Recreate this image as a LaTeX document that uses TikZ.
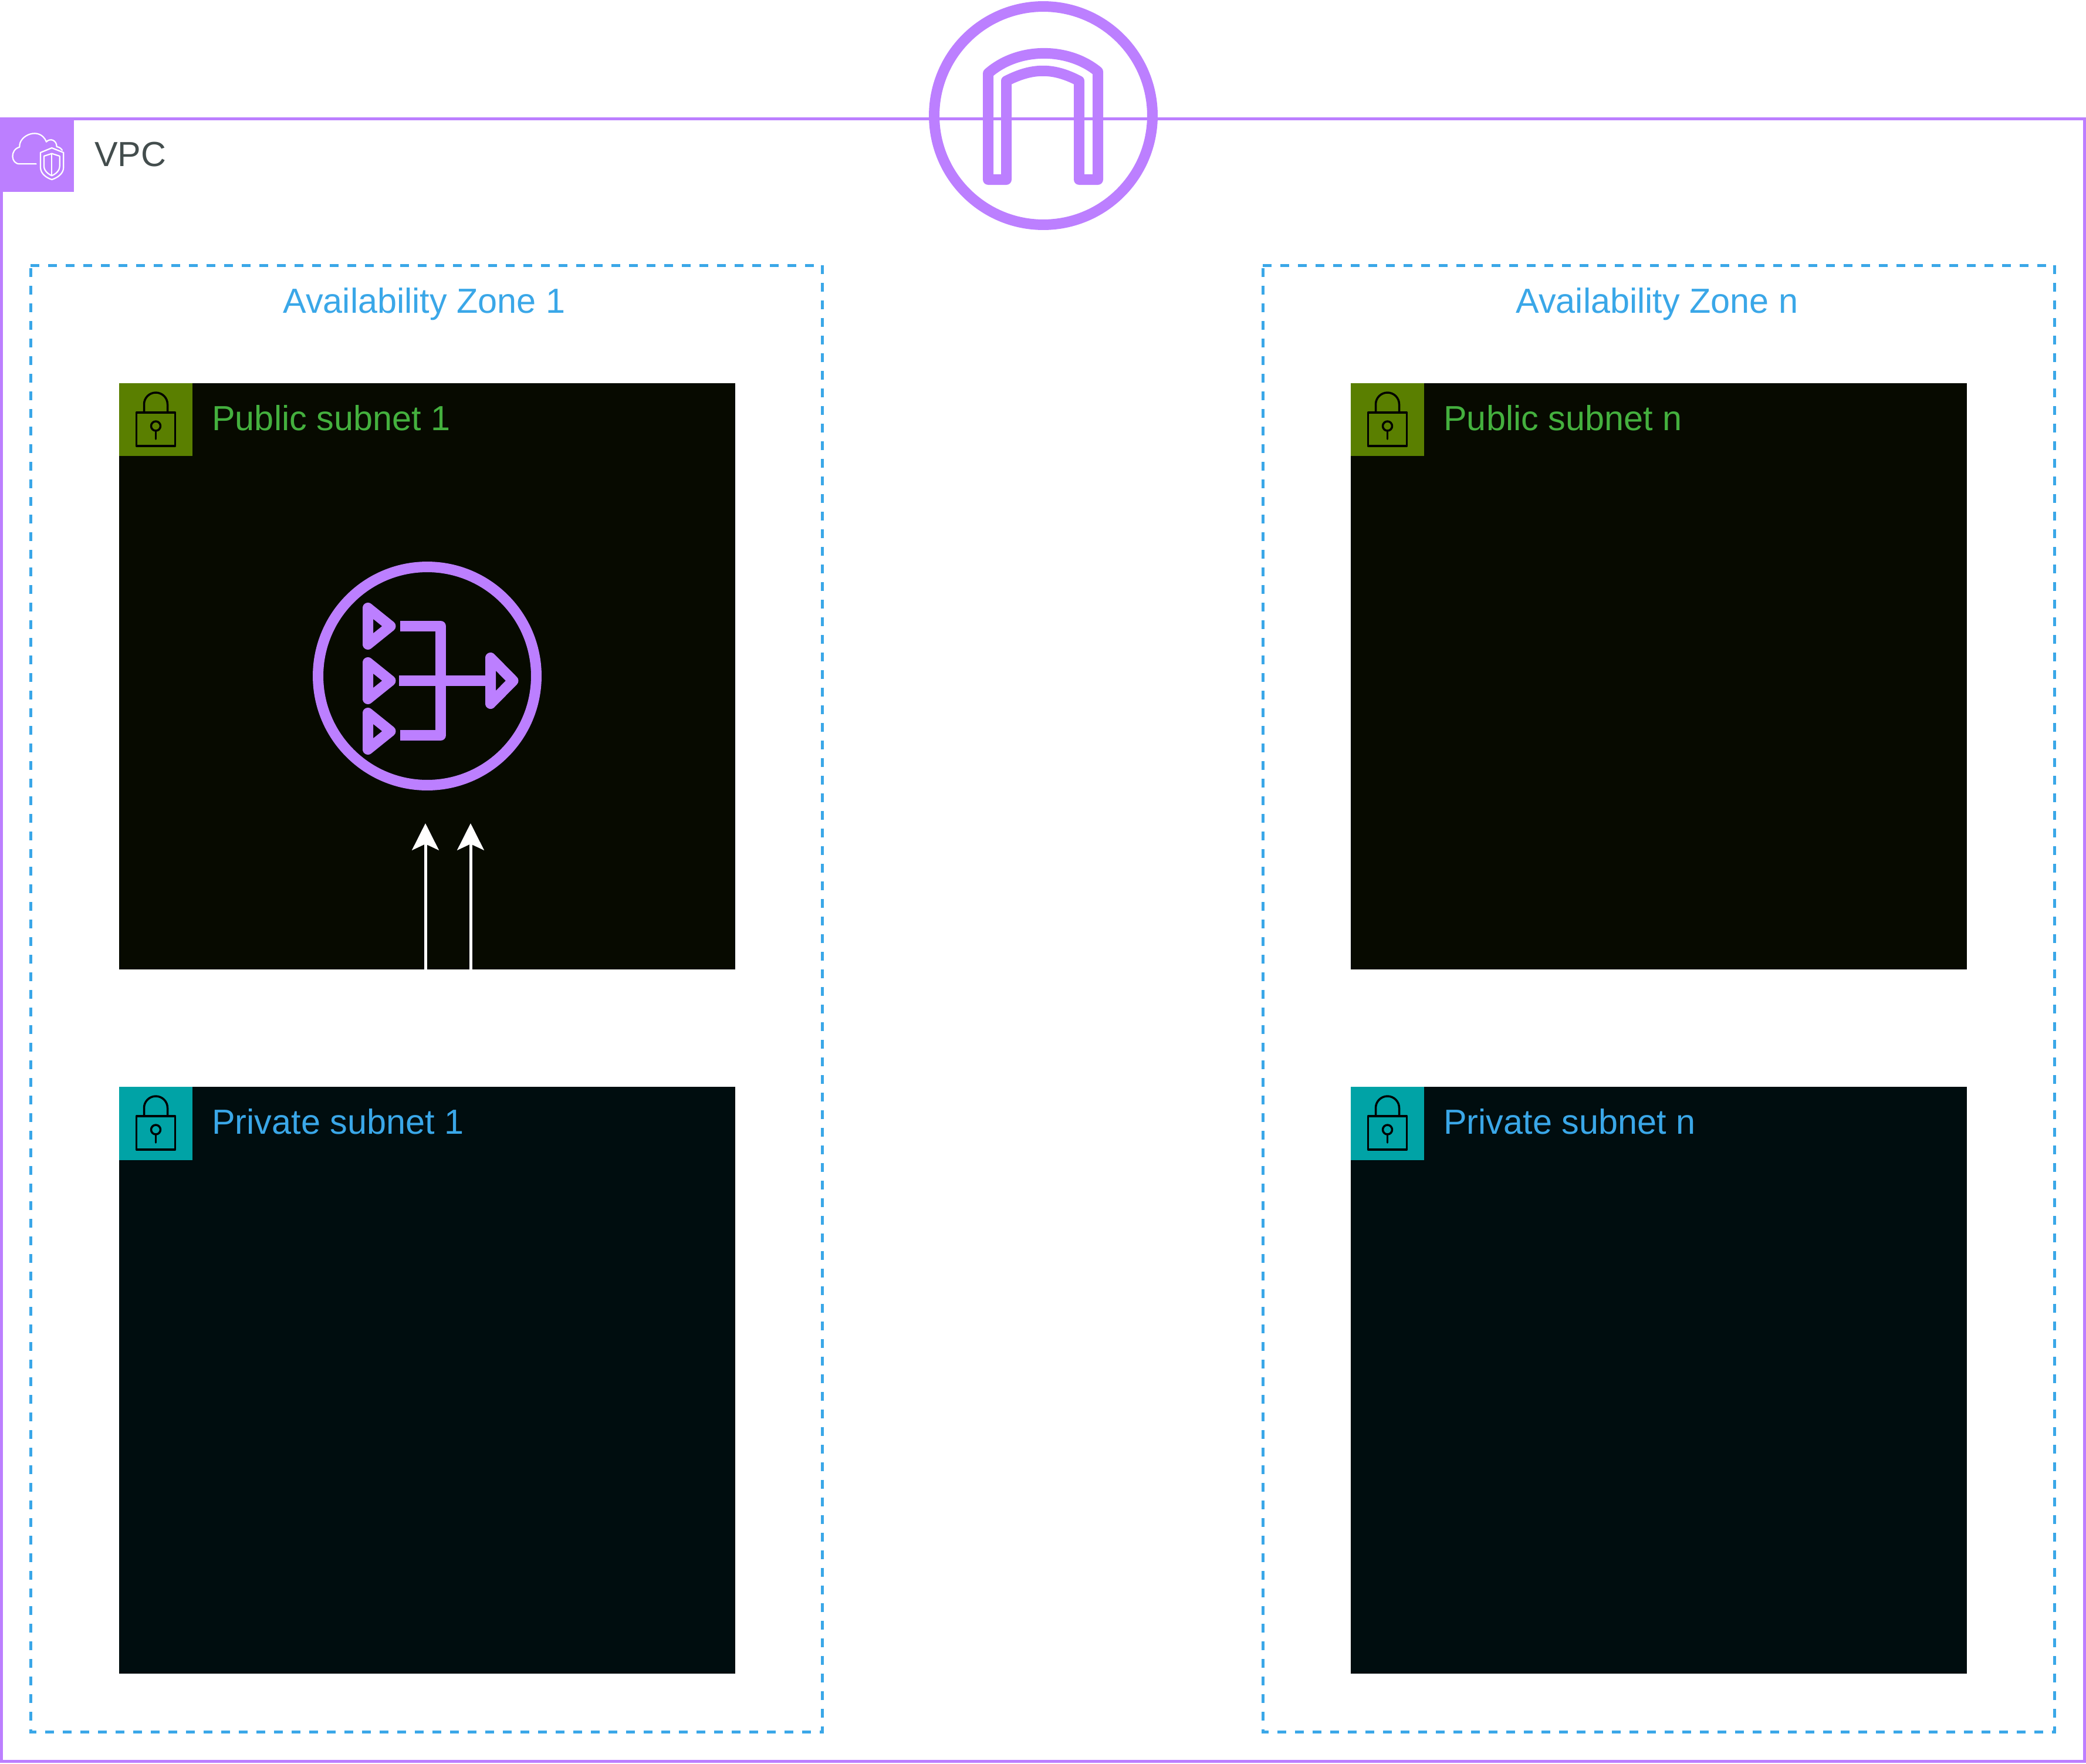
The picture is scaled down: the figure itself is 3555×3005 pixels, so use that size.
\documentclass[tikz,border=0pt]{standalone}
\usepackage{fontspec}
\setmainfont{Liberation Sans}
\usetikzlibrary{arrows.meta}
\definecolor{vpcpurple}{HTML}{BC7FFF}
\definecolor{vpctext}{HTML}{434D4D}
\definecolor{zoneblue}{HTML}{3AA7E8}
\definecolor{pubfill}{HTML}{070A00}
\definecolor{pubtab}{HTML}{5A7F00}
\definecolor{pubtext}{HTML}{44B03E}
\definecolor{privfill}{HTML}{000D0F}
\definecolor{privtab}{HTML}{00A3A6}
\tikzset{
  vpcbox/.style={draw=vpcpurple, line width=0.1cm, inner sep=0pt, outer sep=0pt, minimum width=71cm, minimum height=56cm},
  zonebox/.style={inner sep=0pt, outer sep=0pt, minimum width=27cm, minimum height=50cm},
  zoneline/.style={draw=zoneblue, line width=0.1cm, dash pattern=on 0.3cm off 0.3cm},
  subnetbox/.style={inner sep=0pt, outer sep=0pt, minimum width=21cm, minimum height=20cm},
  tabbox/.style={inner sep=0pt, outer sep=0pt, minimum size=2.5cm},
  badge/.style={draw=vpcpurple, line width=0.36cm, circle, inner sep=0pt, outer sep=0pt, minimum size=7.44cm},
  glyph/.style={draw=vpcpurple, line width=0.36cm, line join=round},
  lockline/.style={draw=black, line width=0.07cm, line cap=round, line join=round},
  iconline/.style={draw=white, line width=0.045cm, line cap=round, line join=round},
  label/.style={inner sep=0pt, font=\fontsize{33.8}{40}\selectfont},
  flow/.style={draw=white, line width=0.1cm, -{Stealth[length=26pt, width=26pt, inset=6pt]}}
}
% padlock of a subnet tab, (#1) is the centre of the tab
\newcommand{\lockicon}[1]{
\draw[lockline] ([shift={(-33,-12)}]#1.center) rectangle ([shift={(33,45)}]#1.center);
\draw[lockline] ([shift={(-20,-12)}]#1.center) -- ([shift={(-20,-26)}]#1.center) arc (180:360:20) -- ([shift={(20,-12)}]#1.center);
\draw[lockline] ([shift={(0,11)}]#1.center) circle (8);
\draw[lockline] ([shift={(0,19)}]#1.center) -- ([shift={(0,33)}]#1.center);
}
% one triangle of the gateway icon, (#1) is the middle of its back
\newcommand{\natarrow}[2]{
\draw[glyph] ([shift={(0,-#2)}]#1) -- ([shift={(38.5,0)}]#1) -- ([shift={(0,#2)}]#1) -- cycle;
}
\begin{document}
\begin{tikzpicture}[x=0.02cm, y=-0.02cm]
\useasboundingbox (0,0) rectangle (3555,3005);
\node[vpcbox] (vpc) at (1777.5,1602) {};
\node[fill=vpcpurple, inner sep=0pt, outer sep=0pt, minimum size=2.5cm] (vpctab) at (64,264.5) {};
\node[label, anchor=base west, text=vpctext] (vpclabel) at (161,283) {VPC};
% vpc icon
\begin{scope}[shift={(0,180)}, x=0.02cm/3, y=-0.02cm/3]
\draw[iconline] (185,298) -- (100,298) .. controls (55,298) and (50,225) .. (100,212) .. controls (95,150) and (205,105) .. (237,185) .. controls (255,165) and (290,175) .. (290,210) .. controls (302,212) and (312,218) .. (318,228);
\draw[iconline] (265,216) -- (207,240) -- (207,315) .. controls (207,350) and (240,370) .. (265,378) .. controls (290,370) and (325,350) .. (325,315) -- (325,240) -- cycle;
\draw[iconline] (265,245) -- (225,258) -- (225,310) .. controls (225,335) and (250,352) .. (265,358) .. controls (280,352) and (305,335) .. (305,310) -- (305,258) -- cycle;
\draw[iconline] (265,245) -- (265,358);
\end{scope}
% internet gateway
\node[badge] (igw) at (1778,197) {};
\draw[glyph] (1684,306) -- (1684,125) .. controls (1735,80) and (1820,80) .. (1871,122) -- (1871,306) -- (1839,306) -- (1839,138) .. controls (1795,115) and (1760,115) .. (1715,138) -- (1715,306) -- cycle;
% zones
\node[zonebox] (zone1) at (727,1702) {};
\node[zonebox] (zonen) at (2827,1702) {};
\draw[zoneline] (zone1.north west) -- (zone1.north east) -- (zone1.south east) -- (zone1.south west) -- cycle;
\draw[zoneline] (zonen.north west) -- (zonen.north east) -- (zonen.south east) -- (zonen.south west) -- cycle;
\node[label, anchor=base, text=zoneblue] (zone1label) at (723,533) {Availability Zone 1};
\node[label, anchor=base, text=zoneblue] (zonenlabel) at (2824,533) {Availability Zone n};
% subnets
\node[subnetbox, fill=pubfill] (pub1) at (728,1152.5) {};
\node[subnetbox, fill=pubfill] (pubn) at (2827,1152.5) {};
\node[subnetbox, fill=privfill] (priv1) at (728,2352) {};
\node[subnetbox, fill=privfill] (privn) at (2827,2352) {};
\node[tabbox, fill=pubtab] (pub1tab) at (265.5,715) {};
\node[tabbox, fill=pubtab] (pubntab) at (2364.5,715) {};
\node[tabbox, fill=privtab] (priv1tab) at (265.5,1914) {};
\node[tabbox, fill=privtab] (privntab) at (2364.5,1914) {};
\lockicon{pub1tab}
\lockicon{pubntab}
\lockicon{priv1tab}
\lockicon{privntab}
\node[label, anchor=base west, text=pubtext] (pub1label) at (361,733) {Public subnet 1};
\node[label, anchor=base west, text=pubtext] (pubnlabel) at (2460,733) {Public subnet n};
\node[label, anchor=base west, text=zoneblue] (priv1label) at (361,1932) {Private subnet 1};
\node[label, anchor=base west, text=zoneblue] (privnlabel) at (2460,1932) {Private subnet n};
% nat gateway
\node[badge] (nat1) at (728,1152) {};
\coordinate (nattop) at (627,1067);
\coordinate (natmid) at (627,1160);
\coordinate (natbot) at (627,1246);
\coordinate (natout) at (836,1160);
\natarrow{nattop}{31}
\natarrow{natmid}{31}
\natarrow{natbot}{31}
\natarrow{natout}{39}
\draw[glyph] (682,1067) -- (751,1067) -- (751,1253) -- (682,1253);
\draw[glyph] (680,1160) -- (836,1160);
% arrows into the nat gateway
\coordinate (flowa) at (725,1652);
\coordinate (flowb) at (802,1652);
\coordinate (flowaend) at (725,1403);
\coordinate (flowbend) at (802,1403);
\draw[flow] (flowa) -- (flowaend);
\draw[flow] (flowb) -- (flowbend);
\end{tikzpicture}
\end{document}
